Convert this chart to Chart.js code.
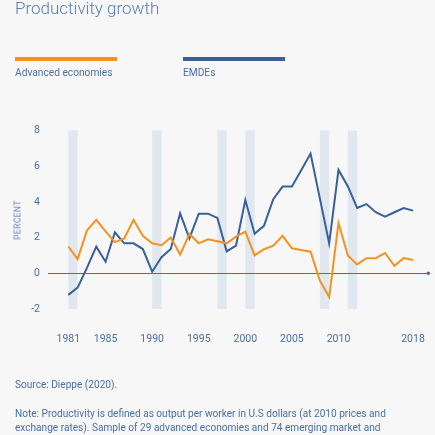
<!DOCTYPE html>
<html>
<head>
<meta charset="utf-8">
<script src="https://cdn.jsdelivr.net/npm/chart.js@4.4.1/dist/chart.umd.min.js"></script>
<style>
  html, body { margin: 0; padding: 0; background: #f7f7f7; }
  body { width: 435px; height: 435px; overflow: hidden; position: relative; font-family: Roboto, "Noto Sans", sans-serif; color: #4a6fa5; }
  #chart-box { position: absolute; left: 0; top: 0; width: 435px; height: 435px; }
  #title { position: absolute; left: 15px; top: 0; font-size: 17px; line-height: 17px; font-weight: 300; color: #5a7db3; white-space: nowrap; }
  .key { position: absolute; top: 57px; width: 102px; height: 4px; }
  .key-label { position: absolute; top: 67px; font-size: 10.2px; line-height: 11px; white-space: nowrap; }
  #ytitle { position: absolute; left: 17.5px; top: 219.5px; transform: translate(-50%, -50%) rotate(-90deg); font-size: 8.5px; line-height: 9px; letter-spacing: 0.4px; color: #6083b8; white-space: nowrap; }
  .foot { position: absolute; left: 15px; font-size: 10.1px; line-height: 14.2px; white-space: nowrap; }
</style>
</head>
<body>
<div id="chart-box"><canvas id="productivity-chart"></canvas></div>
<div id="title">Productivity growth</div>
<div class="key" style="left:15px; background:#f39220;"></div>
<div class="key" style="left:183px; background:#3a6098;"></div>
<div class="key-label" style="left:15px;">Advanced economies</div>
<div class="key-label" style="left:183px;">EMDEs</div>
<div id="ytitle">PERCENT</div>
<div class="foot" style="top:377.6px;">Source: Dieppe (2020).</div>
<div class="foot" style="top:407px;">Note: Productivity is defined as output per worker in U.S dollars (at 2010 prices and<br>exchange rates). Sample of 29 advanced economies and 74 emerging market and</div>

<script>
// --- données ---
const years = [1981, 1982, 1983, 1984, 1985, 1986, 1987, 1988, 1989, 1990,
  1991, 1992, 1993, 1994, 1995, 1996, 1997, 1998, 1999, 2000,
  2001, 2002, 2003, 2004, 2005, 2006, 2007, 2008, 2009, 2010,
  2011, 2012, 2013, 2014, 2015, 2016, 2017, 2018];
const advancedEconomies = [1.5, 0.8, 2.4, 3.0, 2.35, 1.75, 1.95, 3.0, 2.1, 1.68,
  1.57, 2.0, 1.05, 2.2, 1.68, 1.9, 1.8, 1.68, 2.05, 2.33,
  1.0, 1.35, 1.55, 2.1, 1.4, 1.31, 1.21, -0.41, -1.33, 2.82,
  1.0, 0.5, 0.85, 0.85, 1.14, 0.42, 0.85, 0.75];
const emdes = [-1.21, -0.8, 0.3, 1.49, 0.65, 2.3, 1.68, 1.68, 1.36, 0.09,
  0.9, 1.36, 3.36, 1.96, 3.34, 3.34, 3.1, 1.23, 1.55, 4.11,
  2.22, 2.66, 4.15, 4.86, 4.86, 5.77, 6.71, 4.2, 1.68, 5.79,
  4.88, 3.66, 3.88, 3.42, 3.17, 3.42, 3.65, 3.51];
const recessionYears = [1981, 1990, 1997, 2000, 2008, 2011];
const xTickYears = [1981, 1985, 1990, 1995, 2000, 2005, 2010, 2018];

const textColor = '#4a6fa5';

// bandes grises + point au bout de l'axe
const bandsPlugin = {
  id: 'recessionBands',
  beforeDraw(chart) {
    const { ctx, scales: { x, y } } = chart;
    ctx.save();
    ctx.fillStyle = '#e0e7ef';
    const top = y.getPixelForValue(8);
    const bottom = y.getPixelForValue(-2);
    recessionYears.forEach(yr => {
      const left = x.getPixelForValue(yr);
      const right = x.getPixelForValue(yr + 1);
      ctx.fillRect(left, top, right - left, bottom - top);
    });
    ctx.restore();
  },
  afterDraw(chart) {
    const { ctx, scales: { x, y } } = chart;
    ctx.save();
    ctx.fillStyle = textColor;
    ctx.beginPath();
    ctx.arc(x.getPixelForValue(x.max), y.getPixelForValue(0), 1.8, 0, Math.PI * 2);
    ctx.fill();
    ctx.restore();
  }
};

const toPoints = values => years.map((yr, i) => ({ x: yr, y: values[i] }));

new Chart(document.getElementById('productivity-chart').getContext('2d'), {
  type: 'line',
  data: {
    datasets: [
      { label: 'Advanced economies', data: toPoints(advancedEconomies), borderColor: '#f39220', borderWidth: 2, pointRadius: 0, tension: 0 },
      { label: 'EMDEs', data: toPoints(emdes), borderColor: '#3a6098', borderWidth: 2, pointRadius: 0, tension: 0 }
    ]
  },
  options: {
    responsive: true,
    maintainAspectRatio: false,
    animation: false,
    layout: { padding: { top: 130.5, bottom: 86, left: 0, right: 6.7 } },
    plugins: { legend: { display: false }, tooltip: { enabled: false } },
    scales: {
      x: {
        type: 'linear', min: 1978.82, max: 2019.64,
        grid: { display: false, drawTicks: false }, border: { display: false },
        afterBuildTicks: scale => { scale.ticks = xTickYears.map(v => ({ value: v })); },
        afterFit: scale => { scale.height = 40; scale.paddingLeft = 0; scale.paddingRight = 0; },
        ticks: { autoSkip: false, maxRotation: 0, padding: 24, color: textColor, font: { family: 'Roboto', size: 10.5 }, callback: v => String(v) }
      },
      y: {
        min: -2, max: 8,
        grid: { drawTicks: false, color: ctx => ctx.tick && ctx.tick.value === 0 ? textColor : 'rgba(0,0,0,0)', lineWidth: 1 },
        border: { display: false },
        afterFit: scale => { scale.width = 48; },
        ticks: { stepSize: 2, padding: 8, color: textColor, font: { family: 'Roboto', size: 10.5 } }
      }
    }
  },
  plugins: [bandsPlugin]
});
</script>
</body>
</html>
